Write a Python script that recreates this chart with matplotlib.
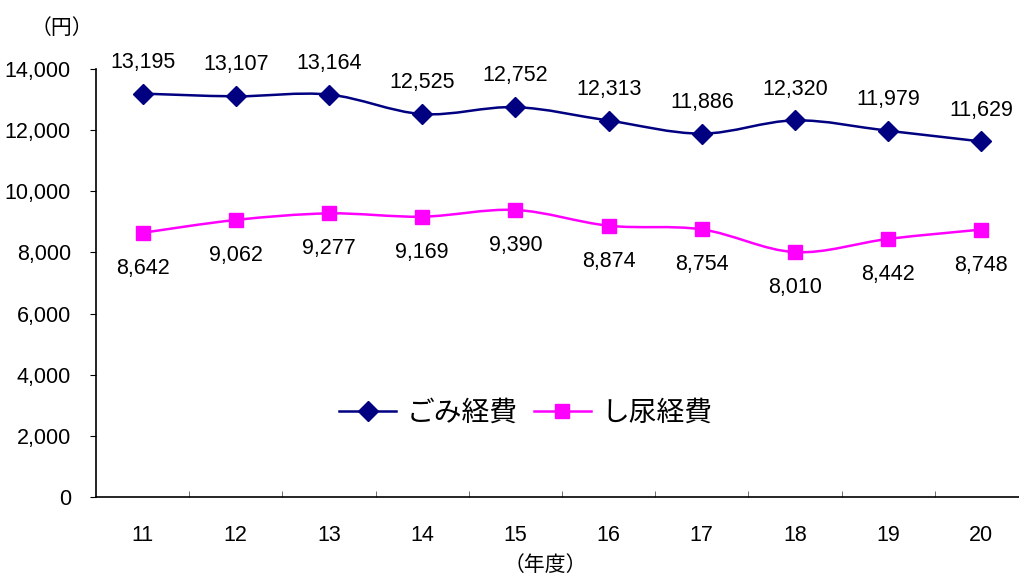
import numpy as np
import matplotlib
matplotlib.use('Agg')
import matplotlib.pyplot as plt
from matplotlib.path import Path
from matplotlib.patches import PathPatch
from matplotlib.lines import Line2D

plt.rcParams['font.family'] = ['Liberation Sans', 'Noto Sans CJK JP', 'DejaVu Sans']

# data
years = ['11', '12', '13', '14', '15', '16', '17', '18', '19', '20']
gomi = [13195, 13107, 13164, 12525, 12752, 12313, 11886, 12320, 11979, 11629]
shinyo = [8642, 9062, 9277, 9169, 9390, 8874, 8754, 8010, 8442, 8748]
series_names = ['ごみ経費', 'し尿経費']

navy = '#000080'
magenta = '#FF00FF'


def smooth_path(xs, ys):
    # Catmull-Rom style smoothing drawn as cubic Bezier (like Excel smoothed lines)
    pts = np.column_stack([xs, ys]).astype(float)
    n = len(pts)
    verts = [pts[0]]
    codes = [Path.MOVETO]
    for i in range(n - 1):
        p0 = pts[i - 1] if i > 0 else pts[i]
        p1 = pts[i]
        p2 = pts[i + 1]
        p3 = pts[i + 2] if i + 2 < n else pts[i + 1]
        c1 = p1 + (p2 - p0) / 6.0
        c2 = p2 - (p3 - p1) / 6.0
        verts += [c1, c2, p2]
        codes += [Path.CURVE4] * 3
    return Path(verts, codes)


fig = plt.figure(figsize=(10.19, 5.75), dpi=100)
ax = fig.add_axes([96 / 1019, 1 - 497 / 575, 932 / 1019, 428 / 575])

x = np.arange(len(years))

ax.add_patch(PathPatch(smooth_path(x, gomi), fill=False, edgecolor=navy, lw=1.8, zorder=2))
ax.add_patch(PathPatch(smooth_path(x, shinyo), fill=False, edgecolor=magenta, lw=1.8, zorder=2))
ax.plot(x, gomi, ls='none', marker='D', ms=10.5, color=navy, zorder=3)
ax.plot(x, shinyo, ls='none', marker='s', ms=10.5, color=magenta, zorder=3)

for xi, v in zip(x, gomi):
    ax.annotate(f'{v:,}', (xi, v), xytext=(0, 15), textcoords='offset points',
                ha='center', va='bottom', fontsize=15.5)
for xi, v in zip(x, shinyo):
    ax.annotate(f'{v:,}', (xi, v), xytext=(0, -18), textcoords='offset points',
                ha='center', va='top', fontsize=15.5)

ax.set_xlim(-0.5, len(years) - 0.5)
ax.set_ylim(0, 14000)
ax.set_yticks(range(0, 14001, 2000))
ax.set_yticklabels([f'{t:,}' for t in range(0, 14001, 2000)], fontsize=15.5)
ax.set_xticks(x)
ax.set_xticklabels(years, fontsize=15.5)
ax.set_xticks(np.arange(len(years)) + 0.5, minor=True)
ax.tick_params(axis='x', which='major', length=0, pad=20)
ax.tick_params(axis='x', which='minor', length=4, direction='in', color='#555555')
ax.tick_params(axis='y', length=4, direction='out', pad=14)

for s in ['top', 'right']:
    ax.spines[s].set_visible(False)
for s in ['left', 'bottom']:
    ax.spines[s].set_linewidth(1.2)

fig.text(62 / 1019, 1 - 28 / 575, '（円）', ha='center', va='center', fontsize=15,
         family=['Noto Sans CJK JP'])
fig.text(545 / 1019, 1 - 565 / 575, '（年度）', ha='center', va='center', fontsize=15,
         family=['Noto Sans CJK JP'])

handles = [Line2D([], [], color=navy, marker='D', ms=10.5, lw=1.8),
           Line2D([], [], color=magenta, marker='s', ms=10.5, lw=1.8)]
ax.legend(handles, series_names, loc='center', bbox_to_anchor=(0.461, 0.196),
          ncol=2, frameon=False, handlelength=2.05, handletextpad=0.36, columnspacing=0.6,
          prop={'family': ['Noto Sans CJK JP'], 'size': 20})

fig.savefig('out.png', dpi=100)
